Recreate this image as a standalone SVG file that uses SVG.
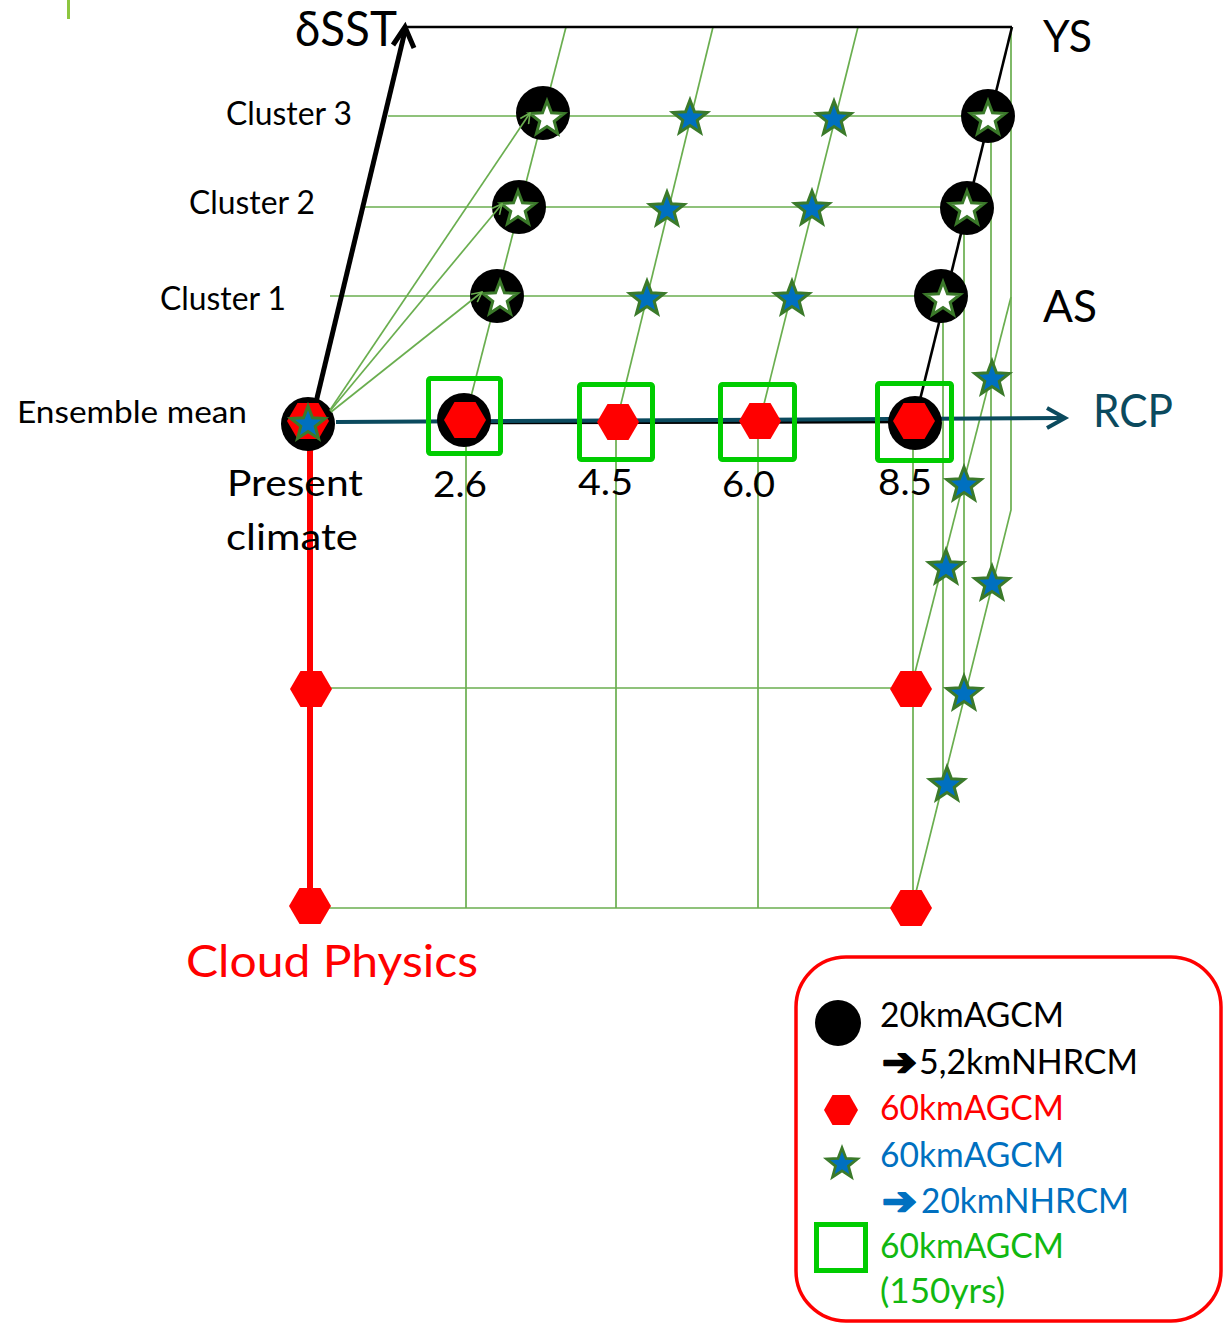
<svg xmlns="http://www.w3.org/2000/svg" xmlns:xlink="http://www.w3.org/1999/xlink" width="1231" height="1326" viewBox="0 0 1231 1326">
<style>
.t{font-family:Lato,"Liberation Sans","DejaVu Sans",sans-serif;fill:#000}
.g{fill:none;stroke:#6AAE4F;stroke-width:1.7}
.blk{fill:none;stroke:#000;stroke-width:2.6}
.hex{fill:#FF0000}
.bstar{fill:#0070C0;stroke:#3B7A2A;stroke-width:3}
.wstar{fill:#FFFFFF;stroke:#3B7A2A;stroke-width:3}
.box{fill:none;stroke:#00CC00;stroke-width:5}
.dot{fill:#000}
.arr{font-family:"DejaVu Sans",sans-serif;font-size:38px;font-weight:bold;stroke-width:2;stroke-linejoin:round}
</style>
<defs>
<path id="star" d="M0,-18 L4.47,-6.15 L17.12,-5.56 L7.23,2.35 L10.58,14.56 L0,7.6 L-10.58,14.56 L-7.23,2.35 L-17.12,-5.56 L-4.47,-6.15 Z"/>
<polygon id="hx" points="-21,0 -10.5,-18 10.5,-18 21,0 10.5,18 -10.5,18"/>
<marker id="ga" viewBox="0 0 12 12" refX="11" refY="6" markerWidth="12" markerHeight="12" markerUnits="userSpaceOnUse" orient="auto">
<path d="M1,1 L11,6 L1,11" fill="none" stroke="#6AAE4F" stroke-width="1.6"/>
</marker>
</defs>
<rect width="1231" height="1326" fill="#FFFFFF"/>
<line x1="68.5" y1="0" x2="68.5" y2="19" stroke="#8DC63F" stroke-width="3"/>

<g id="frame">
<line class="g" x1="388" y1="116" x2="1005" y2="116"/>
<line class="g" x1="365" y1="207" x2="985" y2="207"/>
<line class="g" x1="330" y1="296" x2="958" y2="296"/>
<line class="g" x1="566" y1="27" x2="465" y2="420"/>
<line class="g" x1="713" y1="27" x2="617" y2="420"/>
<line class="g" x1="858" y1="27" x2="760" y2="420"/>
<line class="g" x1="466" y1="420" x2="466" y2="908"/>
<line class="g" x1="616" y1="420" x2="616" y2="908"/>
<line class="g" x1="758" y1="420" x2="758" y2="908"/>
<line class="g" x1="913" y1="421" x2="913" y2="908"/>
<line class="g" x1="943" y1="296" x2="943" y2="782"/>
<line class="g" x1="964" y1="208" x2="964" y2="692"/>
<line class="g" x1="991" y1="116" x2="991" y2="582"/>
<polyline class="g" points="1011,27 1011,510 912,908"/>
<line class="g" x1="1011" y1="297" x2="911" y2="688"/>
<line class="g" x1="311" y1="688" x2="911" y2="688"/>
<line class="g" x1="310" y1="908" x2="911" y2="908"/>
<line class="blk" x1="407" y1="27" x2="1012" y2="27"/>
<line class="blk" x1="1012" y1="27" x2="915" y2="420"/>
<line x1="465" y1="423" x2="915" y2="422" stroke="#000" stroke-width="2.6"/>
<line x1="310" y1="423" x2="310" y2="905" stroke="#FF0000" stroke-width="6"/>
<line x1="311" y1="423" x2="405" y2="31" stroke="#000" stroke-width="5"/>
<polyline points="393,45 405,27 414,48" fill="none" stroke="#000" stroke-width="5" stroke-linejoin="miter"/>
<line x1="336" y1="422" x2="1063" y2="418" stroke="#0B4A5E" stroke-width="4"/>
<polyline points="1047,408 1065,418 1047,428" fill="none" stroke="#0B4A5E" stroke-width="4"/>
</g>

<g id="node-rcp26">
<rect class="box" x="428.5" y="378.5" width="72" height="75" rx="2"/>
<circle class="dot" cx="464" cy="420" r="27"/>
<use href="#hx" class="hex" x="465" y="420"/>
</g>
<g id="node-rcp45">
<rect class="box" x="579.5" y="384.5" width="73" height="75" rx="2"/>
<use href="#hx" class="hex" x="618" y="422"/>
</g>
<g id="node-rcp60">
<rect class="box" x="720.5" y="384.5" width="74" height="75" rx="2"/>
<use href="#hx" class="hex" x="760" y="421"/>
</g>
<g id="node-rcp85">
<rect class="box" x="877.5" y="383.5" width="74" height="77" rx="2"/>
<circle class="dot" cx="915" cy="423" r="27"/>
<use href="#hx" class="hex" x="914" y="421"/>
</g>

<g id="node-c3-26"><circle class="dot" cx="543" cy="113" r="27"/><use href="#star" class="wstar" x="547" y="119"/></g>
<g id="node-c2-26"><circle class="dot" cx="519" cy="207" r="27"/><use href="#star" class="wstar" x="518" y="209"/></g>
<g id="node-c1-26"><circle class="dot" cx="497" cy="296" r="27"/><use href="#star" class="wstar" x="500" y="299"/></g>
<g id="node-c3-85"><circle class="dot" cx="988" cy="116" r="27"/><use href="#star" class="wstar" x="988" y="119"/></g>
<g id="node-c2-85"><circle class="dot" cx="967" cy="208" r="27"/><use href="#star" class="wstar" x="967" y="209"/></g>
<g id="node-c1-85"><circle class="dot" cx="941" cy="296" r="27"/><use href="#star" class="wstar" x="943" y="300"/></g>

<g id="node-c3-45"><use href="#star" class="bstar" x="690" y="118"/></g>
<g id="node-c3-60"><use href="#star" class="bstar" x="834" y="119"/></g>
<g id="node-c2-45"><use href="#star" class="bstar" x="667" y="210"/></g>
<g id="node-c2-60"><use href="#star" class="bstar" x="812" y="209"/></g>
<g id="node-c1-45"><use href="#star" class="bstar" x="647" y="299"/></g>
<g id="node-c1-60"><use href="#star" class="bstar" x="792" y="299"/></g>
<g id="node-as1"><use href="#star" class="bstar" x="992" y="379"/></g>
<g id="node-as2"><use href="#star" class="bstar" x="964" y="485"/></g>
<g id="node-as3"><use href="#star" class="bstar" x="946" y="568"/></g>
<g id="node-as4"><use href="#star" class="bstar" x="992" y="584"/></g>
<g id="node-as5"><use href="#star" class="bstar" x="964" y="694"/></g>
<g id="node-as6"><use href="#star" class="bstar" x="947" y="785"/></g>

<g id="node-cp-l1"><use href="#hx" class="hex" x="311" y="689"/></g>
<g id="node-cp-l2"><use href="#hx" class="hex" x="310" y="906"/></g>
<g id="node-cp-r1"><use href="#hx" class="hex" x="911" y="689"/></g>
<g id="node-cp-r2"><use href="#hx" class="hex" x="911" y="908"/></g>

<g id="node-ensemble">
<circle class="dot" cx="308" cy="424" r="27"/>
<use href="#hx" class="hex" x="308" y="421"/>
<use href="#star" class="bstar" x="308" y="424"/>
</g>

<g id="connectors">
<line class="g" x1="330" y1="410" x2="530" y2="113" marker-end="url(#ga)"/>
<line class="g" x1="330" y1="411" x2="502" y2="204" marker-end="url(#ga)"/>
<line class="g" x1="331" y1="412" x2="482" y2="292" marker-end="url(#ga)"/>
</g>

<g id="labels">
<text class="t" x="295" y="46" font-size="49" textLength="102" lengthAdjust="spacingAndGlyphs">δSST</text>
<text class="t" x="1043" y="52" font-size="45" textLength="49" lengthAdjust="spacingAndGlyphs">YS</text>
<text class="t" x="1043" y="322" font-size="45" textLength="54" lengthAdjust="spacingAndGlyphs">AS</text>
<text class="t" x="1093" y="427" font-size="47" textLength="80" lengthAdjust="spacingAndGlyphs" style="fill:#0B4A5E">RCP</text>
<text class="t" x="226" y="125" font-size="32" textLength="126" lengthAdjust="spacingAndGlyphs">Cluster 3</text>
<text class="t" x="189" y="214" font-size="32" textLength="126" lengthAdjust="spacingAndGlyphs">Cluster 2</text>
<text class="t" x="160" y="310" font-size="32" textLength="126" lengthAdjust="spacingAndGlyphs">Cluster 1</text>
<text class="t" x="17" y="423" font-size="30" textLength="230" lengthAdjust="spacingAndGlyphs">Ensemble mean</text>
<text class="t" x="227" y="496" font-size="37" textLength="136" lengthAdjust="spacingAndGlyphs">Present</text>
<text class="t" x="226" y="550" font-size="37" textLength="132" lengthAdjust="spacingAndGlyphs">climate</text>
<text class="t" x="433" y="497" font-size="37" textLength="54" lengthAdjust="spacingAndGlyphs">2.6</text>
<text class="t" x="578" y="495" font-size="37" textLength="55" lengthAdjust="spacingAndGlyphs">4.5</text>
<text class="t" x="722" y="497" font-size="37" textLength="53" lengthAdjust="spacingAndGlyphs">6.0</text>
<text class="t" x="878" y="495" font-size="37" textLength="54" lengthAdjust="spacingAndGlyphs">8.5</text>
<text class="t" x="186" y="977" font-size="44" textLength="292" lengthAdjust="spacingAndGlyphs" style="fill:#FF0000">Cloud Physics</text>
</g>

<g id="legend">
<rect x="796" y="957" width="425" height="364" rx="50" fill="none" stroke="#FF0000" stroke-width="3.5"/>
<circle cx="838" cy="1023" r="23" fill="#000"/>
<polygon points="824,1110 832.5,1095 849.5,1095 858,1110 849.5,1125 832.5,1125" fill="#FF0000"/>
<use href="#star" x="0" y="0" transform="translate(842,1164) scale(0.9)" class="bstar"/>
<rect x="816.5" y="1224.5" width="49" height="46" fill="none" stroke="#00CC00" stroke-width="5"/>
<text class="t" x="880" y="1027" font-size="34" textLength="184" lengthAdjust="spacingAndGlyphs">20kmAGCM</text>
<text class="arr" x="882" y="1075" textLength="35" lengthAdjust="spacingAndGlyphs" fill="#000" stroke="#000">➔</text>
<text class="t" x="919" y="1074" font-size="34" textLength="219" lengthAdjust="spacingAndGlyphs">5,2kmNHRCM</text>
<text class="t" x="880" y="1120" font-size="34" textLength="184" lengthAdjust="spacingAndGlyphs" style="fill:#FF0000">60kmAGCM</text>
<text class="t" x="880" y="1167" font-size="34" textLength="184" lengthAdjust="spacingAndGlyphs" style="fill:#0070C0">60kmAGCM</text>
<text class="arr" x="882" y="1214" textLength="35" lengthAdjust="spacingAndGlyphs" fill="#0070C0" stroke="#0070C0">➔</text>
<text class="t" x="921" y="1213" font-size="34" textLength="208" lengthAdjust="spacingAndGlyphs" style="fill:#0070C0">20kmNHRCM</text>
<text class="t" x="880" y="1258" font-size="34" textLength="184" lengthAdjust="spacingAndGlyphs" style="fill:#11B811">60kmAGCM</text>
<text class="t" x="880" y="1303" font-size="34" textLength="125" lengthAdjust="spacingAndGlyphs" style="fill:#11B811">(150yrs)</text>
</g>
</svg>
